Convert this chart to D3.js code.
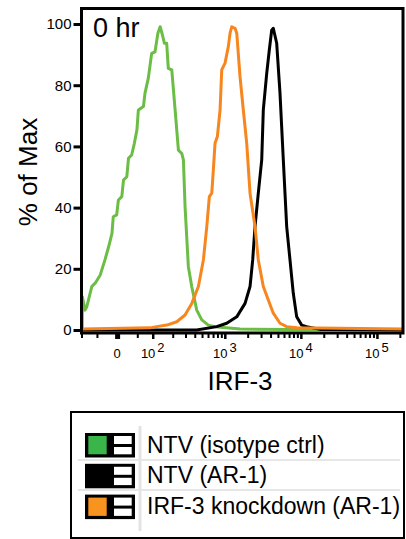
<!DOCTYPE html>
<html>
<head>
<meta charset="utf-8">
<script src="https://cdn.jsdelivr.net/npm/d3@7"></script>
<style>
  body { margin: 0; background: #fff; }
  svg { display: block; }
  text { font-family: "Liberation Sans", Arial, sans-serif; fill: #000; }
</style>
</head>
<body>
<div id="chart"></div>
<script>
const width = 406, height = 539;

// series: [IRF-3 intensity, % of Max]
const ntvIsotype = [
  [-97, 0], [-97, 10.9], [-87, 6.5], [-81, 7.6], [-65, 14.2], [-55, 15.3], [-41, 18.0],
  [-29, 22.9], [-20, 27.2], [-12, 31.6], [-9, 37.0], [-1, 37.6], [3, 42.5], [11, 43.6],
  [15, 49.0], [23, 50.1], [27, 56.1], [35, 57.2], [42, 61.0], [49, 65.4], [53, 71.9],
  [68, 73.0], [73, 77.4], [84, 82.3], [96, 90.4], [109, 90.9], [121, 97.0], [131, 99.1],
  [142, 96.4], [152, 93.7], [164, 93.7], [173, 85.5], [194, 85.0], [216, 71.9], [240, 58.8],
  [267, 57.7], [281, 55.6], [296, 40.3], [328, 20.7], [364, 14.2], [425, 6.5], [496, 3.3],
  [606, 1.6], [743, 1.1], [1590, 0.3], [6570, 0.2], [220000, 0.2]
];
const ntvAR1 = [
  [-100, 0], [425, 0], [783, 1.1], [1060, 2.2], [1437, 4.3], [1847, 8.7], [2148, 14.2],
  [2329, 22.9], [2498, 33.8], [2760, 44.7], [3060, 55.6], [3211, 71.9], [3560, 83.9],
  [3850, 91.5], [4139, 98.0], [4343, 98.6], [4815, 93.7], [5320, 77.4], [5882, 55.6],
  [6190, 44.7], [6514, 33.8], [7200, 22.9], [7954, 12.0], [8817, 4.3], [10250, 1.6],
  [11930, 1.1], [17800, 0.2], [220000, 0]
];
const irf3Knockdown = [
  [-100, 0.3], [90, 0.7], [116, 1.1], [165, 1.6], [228, 2.7], [296, 4.9], [365, 8.7],
  [447, 14.2], [521, 22.9], [578, 33.8], [625, 43.6], [673, 44.7], [706, 52.3], [743, 61.0],
  [798, 63.2], [866, 71.9], [911, 85.0], [1007, 87.2], [1113, 92.6], [1173, 97.0],
  [1234, 99.1], [1364, 98.6], [1437, 97.0], [1586, 82.8], [1753, 71.9], [1944, 61.0],
  [2148, 44.7], [2498, 33.8], [2760, 22.9], [3211, 14.2], [3735, 9.8], [4343, 5.5],
  [5320, 2.2], [6514, 1.1], [8817, 0.7], [220000, 0.3]
];

const legendLabels = ["NTV (isotype ctrl)", "NTV (AR-1)", "IRF-3 knockdown (AR-1)"];
const lineColors = ["#6cbd45", "#000000", "#f7861f"];
const swatchColors = ["#39b54a", "#000000", "#f7931e"];

const yTicks = [0, 20, 40, 60, 80, 100];
const xMajorTicks = [0, 100, 1000, 10000, 100000];
const xTickLabels = [["0", ""], ["10", "2"], ["10", "3"], ["10", "4"], ["10", "5"]];
const xMinorTicks = [-100, -50, 50, 200, 300, 400, 500, 600, 700, 800, 900,
  2000, 3000, 4000, 5000, 6000, 7000, 8000, 9000,
  20000, 30000, 40000, 50000, 60000, 70000, 80000, 90000, 200000];

// biexponential-like display (arcsinh)
const asinhT = v => Math.asinh(v / 77);
const xLin = d3.scaleLinear()
    .domain([asinhT(-100), asinhT(220000)])
    .range([81.5, 403]);
const x = v => xLin(asinhT(v));
const y = d3.scaleLinear().domain([0, 100]).range([330, 24]);

const svg = d3.select("#chart").append("svg")
    .attr("width", width)
    .attr("height", height)
    .attr("viewBox", [0, 0, width, height]);

// histograms
const line = d3.line().x(d => x(d[0])).y(d => y(d[1]));
const series = [ntvIsotype, ntvAR1, irf3Knockdown];
svg.append("g")
    .attr("fill", "none")
    .attr("stroke-width", 3)
    .attr("stroke-linejoin", "round")
    .selectAll("path")
    .data(series)
    .join("path")
    .attr("stroke", (d, i) => lineColors[i])
    .attr("d", line);

// frame
svg.append("rect")
    .attr("x", 81.5)
    .attr("y", 8.5)
    .attr("width", 403 - 81.5)
    .attr("height", 333 - 8.5)
    .attr("fill", "none")
    .attr("stroke", "#000")
    .attr("stroke-width", 3);

// y axis
const yAxis = svg.append("g")
    .attr("transform", "translate(81.5,0)")
    .call(d3.axisLeft(y).tickValues(yTicks).tickSize(8).tickPadding(2));
yAxis.select(".domain").remove();
yAxis.selectAll(".tick line").attr("stroke-width", 3);
yAxis.selectAll(".tick text")
    .style("font-size", "15px")
    .style("font-family", "Liberation Sans, Arial, sans-serif");

// x axis ticks
const xMinor = svg.append("g")
    .attr("transform", "translate(0,333)")
    .call(d3.axisBottom(xLin).tickValues(xMinorTicks.map(asinhT)).tickSize(5).tickFormat(""));
xMinor.select(".domain").remove();
xMinor.selectAll(".tick line").attr("stroke-width", 2);

const xMajor = svg.append("g")
    .attr("transform", "translate(0,333)")
    .call(d3.axisBottom(xLin).tickValues(xMajorTicks.map(asinhT)).tickSize(6).tickFormat(""));
xMajor.select(".domain").remove();
xMajor.selectAll(".tick line").attr("stroke-width", (d, i) => i === 0 ? 5 : 2.5);

const xLabels = svg.append("g")
    .style("font-size", "13px")
    .selectAll("text")
    .data(xMajorTicks)
    .join("text")
    .attr("x", d => x(d))
    .attr("y", 358)
    .attr("text-anchor", "middle");
xLabels.append("tspan").text((d, i) => xTickLabels[i][0]);
xLabels.append("tspan")
    .attr("dx", 2)
    .attr("dy", -6)
    .text((d, i) => xTickLabels[i][1]);

// axis titles
svg.append("text")
    .attr("x", 240)
    .attr("y", 390)
    .attr("text-anchor", "middle")
    .style("font-size", "26px")
    .text("IRF-3");

svg.append("text")
    .attr("transform", "translate(37,172) rotate(-90)")
    .attr("text-anchor", "middle")
    .style("font-size", "26px")
    .text("% of Max");

svg.append("text")
    .attr("x", 93)
    .attr("y", 37)
    .style("font-size", "27px")
    .text("0 hr");

// legend
const legend = svg.append("g");
legend.append("rect")
    .attr("x", 71)
    .attr("y", 412)
    .attr("width", 333)
    .attr("height", 126)
    .attr("fill", "#fff")
    .attr("stroke", "#000")
    .attr("stroke-width", 2);

legend.append("line")
    .attr("x1", 140).attr("x2", 140)
    .attr("y1", 426).attr("y2", 531)
    .attr("stroke", "#e3e3e3")
    .attr("stroke-width", 3);
legend.selectAll("line.sep")
    .data([460, 490])
    .join("line")
    .attr("class", "sep")
    .attr("x1", 78).attr("x2", 400)
    .attr("y1", d => d).attr("y2", d => d)
    .attr("stroke", "#e6e6e6")
    .attr("stroke-width", 2);

const rowY = d3.scaleLinear().domain([0, 1]).range([433, 463.8]);
const row = legend.selectAll("g.row")
    .data(legendLabels)
    .join("g")
    .attr("class", "row")
    .attr("transform", (d, i) => `translate(0,${rowY(i)})`);

row.append("rect")
    .attr("x", 85).attr("y", 0)
    .attr("width", 50).attr("height", 24.5)
    .attr("fill", "#000");
row.append("rect")
    .attr("x", 88.3).attr("y", 3)
    .attr("width", 18.4).attr("height", 18.3)
    .attr("fill", (d, i) => swatchColors[i]);
row.append("rect")
    .attr("x", 114).attr("y", 3)
    .attr("width", 17.7).attr("height", 8)
    .attr("fill", "#fff");
row.append("rect")
    .attr("x", 114).attr("y", 14)
    .attr("width", 17.7).attr("height", 7.3)
    .attr("fill", "#fff");
row.append("text")
    .attr("x", 147)
    .attr("y", 19.5)
    .style("font-size", "23px")
    .text(d => d);
</script>
</body>
</html>
